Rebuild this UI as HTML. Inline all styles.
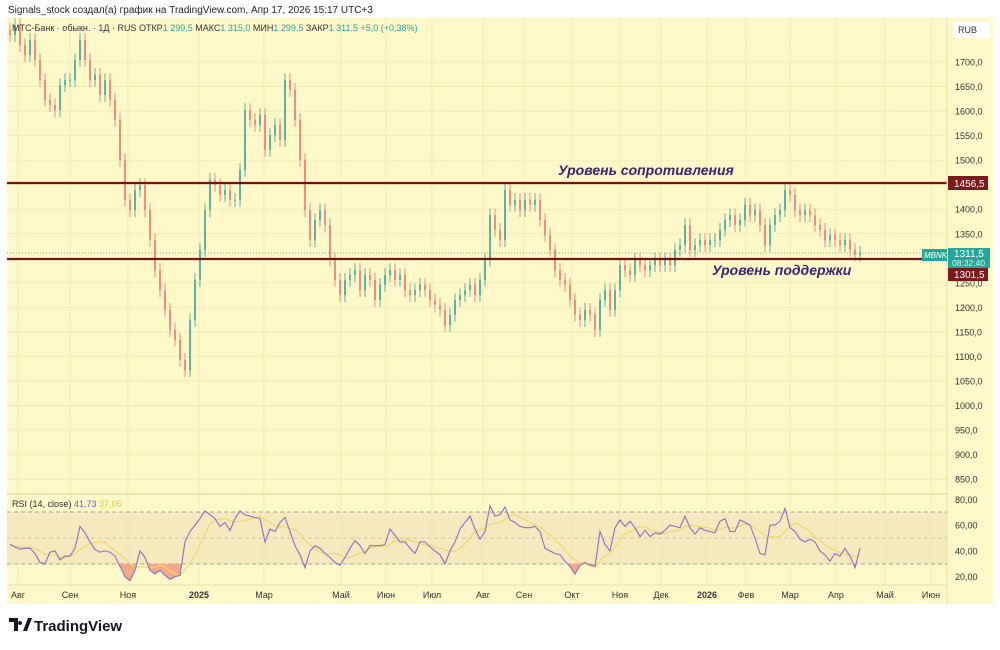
<!DOCTYPE html>
<html><head><meta charset="utf-8">
<style>
body{margin:0;background:#fff;width:1000px;height:645px;overflow:hidden;font-family:"Liberation Sans","Noto Sans CJK SC",sans-serif;}
svg text{font-family:"Liberation Sans","Noto Sans CJK SC",sans-serif;}
</style></head><body>
<svg id="c" width="1000" height="645" xmlns="http://www.w3.org/2000/svg">
<text x="8" y="13" font-size="10" fill="#222">Signals_stock создал(а) график на TradingView.com, Апр 17, 2026 15:17 UTC+3</text>
<rect x="7" y="18" width="986" height="586" fill="#fff8c8"/>
<rect x="7" y="512" width="940" height="52" fill="#f5e9bd"/>
<g id="grid"></g>
<g id="candles"></g>
<line x1="7" y1="253" x2="947" y2="253" stroke="#3a9a8a" stroke-width="0.8" stroke-dasharray="1,2"/>
<line x1="7" y1="183" x2="947" y2="183" stroke="#701515" stroke-width="2.2"/>
<line x1="7" y1="259" x2="947" y2="259" stroke="#701515" stroke-width="2.2"/>
<text x="558" y="175" font-size="14" font-style="italic" font-weight="bold" fill="#3b2370">Уровень сопротивления</text>
<text x="712" y="275" font-size="14" font-style="italic" font-weight="bold" fill="#3b2370">Уровень поддержки</text>
<line x1="7" y1="494" x2="947" y2="494" stroke="#e8dca8" stroke-width="1.5"/>
<line x1="7" y1="585" x2="947" y2="585" stroke="#eadfae" stroke-width="1"/>
<line x1="947" y1="18" x2="947" y2="604" stroke="#eadfae" stroke-width="1"/>
<g>
<line x1="7" y1="512" x2="947" y2="512" stroke="#888" stroke-dasharray="4,3" stroke-width="0.8"/>
<line x1="7" y1="538" x2="947" y2="538" stroke="#aaa" stroke-dasharray="4,3" stroke-width="0.6"/>
<line x1="7" y1="564" x2="947" y2="564" stroke="#888" stroke-dasharray="4,3" stroke-width="0.8"/>
</g>
<g id="rsi"></g>
<g id="paxis"></g>
<g id="raxis"></g>
<g id="taxis"></g>
<text x="12" y="31" font-size="9" fill="#333">МТС-Банк · обыкн. · 1Д · RUS  ОТКР<tspan fill="#26a69a">1 299,5</tspan>  МАКС<tspan fill="#26a69a">1 315,0</tspan>  МИН<tspan fill="#26a69a">1 299,5</tspan>  ЗАКР<tspan fill="#26a69a">1 311,5  +5,0 (+0,38%)</tspan></text>
<text x="12" y="507" font-size="9" fill="#333">RSI (14, close) <tspan fill="#7e57c2">41,73</tspan> <tspan fill="#e8c84a">37,05</tspan></text>
<rect x="953" y="22" width="37" height="16" fill="#fff"/>
<text x="958" y="33" font-size="9" fill="#333">RUB</text>
<rect x="948" y="176" width="40" height="14" fill="#7a1a1a"/>
<text x="954" y="187" font-size="10" fill="#fff">1456,5</text>
<rect x="922" y="249" width="25" height="12" fill="#26a69a"/>
<text x="924" y="258" font-size="8" fill="#fff" font-style="italic">MBNK</text>
<rect x="948" y="248" width="42" height="20" fill="#26a69a"/>
<text x="954" y="257" font-size="10" fill="#fff">1311,5</text>
<text x="952" y="266" font-size="8.5" fill="#d8f5ef">08:32:40</text>
<rect x="948" y="268" width="40" height="13" fill="#7a1a1a"/>
<text x="954" y="278" font-size="10" fill="#fff">1301,5</text>
<g>
<path d="M9 618 h9 v13 h-4 v-9 h-5 z M20 621 a2 2 0 1 0 0.1 0 z M23 631 l5-13 h4 l-5 13 z" fill="#131722"/>
<text x="34" y="631" font-size="15" font-weight="bold" fill="#131722">TradingView</text>
</g>
</svg>
<script>
const closes=[1755,1775,1735,1714,1745,1704,1663,1623,1612,1602,1653,1663,1663,1704,1745,1704,1663,1674,1633,1663,1623,1582,1500,1419,1398,1439,1449,1398,1337,1276,1235,1195,1154,1134,1093,1072,1174,1256,1317,1398,1460,1449,1429,1439,1419,1419,1480,1602,1582,1572,1592,1521,1551,1572,1541,1663,1643,1582,1500,1398,1337,1378,1398,1368,1297,1256,1225,1256,1266,1276,1235,1266,1256,1215,1246,1266,1276,1256,1266,1235,1225,1235,1246,1235,1215,1205,1195,1164,1185,1215,1225,1235,1246,1225,1256,1297,1388,1358,1337,1439,1409,1419,1398,1419,1409,1419,1378,1347,1317,1276,1256,1246,1215,1185,1174,1195,1185,1154,1215,1235,1195,1235,1286,1276,1266,1297,1286,1276,1286,1297,1286,1297,1286,1317,1327,1368,1317,1327,1337,1327,1337,1337,1358,1378,1388,1368,1378,1409,1388,1398,1368,1327,1368,1388,1398,1439,1429,1398,1388,1398,1388,1368,1358,1337,1347,1337,1327,1337,1317,1307,1311.5];
const rsiValues=[45,43,41.5,42,42,38,31,30,39,40,33,36,36,42,59,54,47,41,39,40,39,36,28,20,17,25,40,35,25,22,25,21,18,20,21,47,55,60,65,71,68,65,59,62,56,65,71,68,67,66,65,47,57,55,62,66,55,44,37,27,40,44,42,38,35,31,29,35,42,48,44,38,44,44,44,45,57,52,47,47,42,38,47,47,43,40,37,30,40,47,57,62,67,57,49,55,75,67,68,74,64,62,59,58,58,59,55,42,40,38,37,32,28,22,29,31,29,28,55,45,40,58,64,59,63,58,51,56,51,54,53,56,60,59,58,67,58,53,58,56,55,54,63,65,55,55,64,62,60,50,38,37,60,60,63,73,58,55,49,47,49,47,40,37,32,38,36,42,36,27,42];
const priceTicks=[1700,1650,1600,1550,1500,1450,1400,1350,1300,1250,1200,1150,1100,1050,1000,950,900,850];
const rsiTicks=[80,60,40,20];
const timeLabels=["Авг","Сен","Ноя","2025","Мар","Май","Июн","Июл","Авг","Сен","Окт","Ноя","Дек","2026","Фев","Мар","Апр","Май","Июн"];
const timeIdx=[1.6,12,23.6,37.8,50.8,66.2,75.2,84.4,94.6,102.8,112.4,122,130.2,139.4,147.2,156,165.2,175,184.2];
const boldLabels=["2025","2026"];

const NS="http://www.w3.org/2000/svg";
const X0=10,DX=5;
const xAt=i=>X0+i*DX;
const yP=p=>62+(1700-p)*0.4908;
const yR=r=>538-(r-50)*1.29;
function mk(t,a,parent){const e=document.createElementNS(NS,t);for(const k in a)e.setAttribute(k,a[k]);parent.appendChild(e);return e;}
const G=id=>document.getElementById(id);

priceTicks.forEach(p=>{const l=mk('line',{x1:7,x2:947,y1:yP(p),y2:yP(p),stroke:'#f1e7b4','stroke-width':0.8},G('grid'));

});
timeIdx.forEach(t=>{const l=mk('line',{x1:xAt(t),x2:xAt(t),y1:18,y2:585,stroke:'#f1e7b4','stroke-width':0.8},G('grid'));

});

for(let i=0;i<closes.length;i++){
  const o=i?closes[i-1]:closes[0]+10,c=closes[i];
  const up=c>=o,col=up?'#5db39e':'#ee8d7d';
  const hi=Math.max(o,c)+14,lo=Math.min(o,c)-14,x=xAt(i);
  const w=mk('line',{x1:x,x2:x,y1:yP(hi),y2:yP(lo),stroke:col,'stroke-width':1},G('candles'));
  
  
  const b=mk('rect',{x:x-1,y:yP(Math.max(o,c)),width:2,height:Math.max(1,Math.abs(yP(o)-yP(c))),fill:col},G('candles'));
  
  
}

const pts=rsiValues.map((r,i)=>[xAt(i),yR(r)]);
const d='M'+pts.map(p=>p[0]+','+p[1].toFixed(1)).join(' L');
const defs=mk('defs',{},G('rsi'));
const cp=mk('clipPath',{id:'below30'},defs);
mk('rect',{x:0,y:yR(30),width:1000,height:40},cp);
const fill=mk('path',{d:d+' L'+xAt(rsiValues.length-1)+','+yR(30)+' L'+xAt(0)+','+yR(30)+' Z',fill:'#f4a88a','clip-path':'url(#below30)'},G('rsi'));


const ma=rsiValues.map((r,i)=>{const s=rsiValues.slice(Math.max(0,i-5),i+1);return s.reduce((a,b)=>a+b,0)/s.length;});
const mal=mk('path',{d:'M'+ma.map((m,i)=>xAt(i)+','+yR(m).toFixed(1)).join(' L'),fill:'none',stroke:'#f0d870','stroke-width':1.2},G('rsi'));


const rl=mk('path',{d:d,fill:'none',stroke:'#8a6fc4','stroke-width':1.1},G('rsi'));



priceTicks.forEach(p=>{const t=mk('text',{x:955,y:yP(p)+3.5,'font-size':9,fill:'#333'},G('paxis'));t.textContent=p.toFixed(1).replace('.',',');

});
rsiTicks.forEach(r=>{const t=mk('text',{x:955,y:yR(r)+3.5,'font-size':9,fill:'#333'},G('raxis'));t.textContent=r.toFixed(2).replace('.',',');

});
timeLabels.forEach((s,i)=>{const b=boldLabels.includes(s);const t=mk('text',{x:xAt(timeIdx[i]),y:598,'font-size':9,fill:'#333','text-anchor':'middle','font-weight':b?'bold':'normal'},G('taxis'));t.textContent=s;

});
</script>
</body></html>
